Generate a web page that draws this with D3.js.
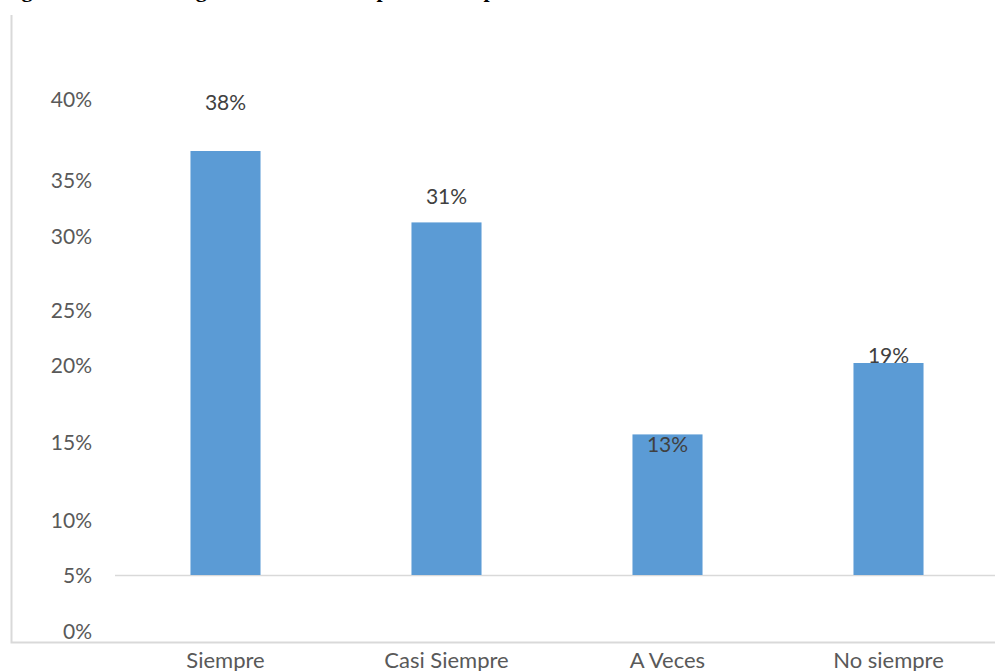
<!DOCTYPE html>
<html><head><meta charset="utf-8">
<script src="https://cdn.jsdelivr.net/npm/d3@7"></script>
<style>html,body{margin:0;padding:0;background:#fff;}svg{display:block;}</style>
</head><body>
<svg id="chart" width="995" height="671"></svg>
<script>
// ---- data ----
const categories = ["Siempre", "Casi Siempre", "A Veces", "No siempre"];
const values = [38, 31.6, 12.6, 19];
const valueLabels = ["38%", "31%", "13%", "19%"];
const tickValues = [0, 5, 10, 15, 20, 25, 30, 35, 40];
const tickLabels = ["0%", "5%", "10%", "15%", "20%", "25%", "30%", "35%", "40%"];
const titleText = "Figura 8. Nivel de organización del tiempo en la empresa";

// ---- layout (not data) ----
const W = 995, H = 671;
const tickPix = [632, 576, 521, 443, 366, 311, 237, 181, 100]; // distorted axis in the picture
const labelDy = [-48, -26, 10, -7];
const font = "Lato, 'Open Sans', sans-serif";

const svg = d3.select("#chart");

// title (cut off by top edge in the reference: only descenders show)
svg.append("text").attr("x", 2).attr("y", -3)
  .attr("font-family", "'Liberation Serif', serif").attr("font-weight", "bold")
  .attr("font-size", 22).attr("fill", "#000").text(titleText);

// outer frame (left & bottom visible)
svg.append("path").attr("d", `M11.5,15 V642.5 H${W}`)
  .attr("fill", "none").attr("stroke", "#d9d9d9").attr("stroke-width", 2);

const x = d3.scaleBand().domain(categories).range([115, 999]).paddingInner(0.683).paddingOuter(0.3415);
const y = d3.scaleLinear().domain([0, 38]).range([575, 151]);
const yAxisScale = d3.scaleLinear().domain(tickValues).range(tickPix);

// baseline
svg.append("line").attr("x1", 115).attr("x2", W).attr("y1", y(0) + 0.5).attr("y2", y(0) + 0.5)
  .attr("stroke", "#d9d9d9").attr("stroke-width", 1.5);

// y tick labels
const yAxis = d3.axisLeft(yAxisScale).tickValues(tickValues)
  .tickFormat((d, i) => tickLabels[i]).tickSize(0).tickPadding(0);
const gy = svg.append("g").attr("transform", "translate(92,0)").call(yAxis);
gy.select(".domain").remove();
gy.selectAll("text").attr("font-family", font).attr("font-size", 21).attr("fill", "#595959");

// bars
svg.selectAll("rect.bar").data(values).join("rect").attr("class", "bar")
  .attr("x", (d, i) => x(categories[i])).attr("width", x.bandwidth())
  .attr("y", d => y(d)).attr("height", d => y(0) - y(d))
  .attr("fill", "#5b9bd5");

// value labels
svg.selectAll("text.val").data(values).join("text").attr("class", "val")
  .attr("x", (d, i) => x(categories[i]) + x.bandwidth() / 2)
  .attr("y", (d, i) => y(d) + labelDy[i])
  .attr("dy", "0.35em").attr("text-anchor", "middle")
  .attr("font-family", font).attr("font-size", 21).attr("fill", "#404040")
  .text((d, i) => valueLabels[i]);

// x axis labels
const xAxis = d3.axisBottom(x).tickSize(0).tickPadding(0);
const gx = svg.append("g").attr("transform", "translate(0,651)").call(xAxis);
gx.select(".domain").remove();
gx.selectAll("text").attr("dy", 0).attr("y", 17).attr("font-family", font).attr("font-size", 22).attr("fill", "#595959");
</script>
</body></html>
